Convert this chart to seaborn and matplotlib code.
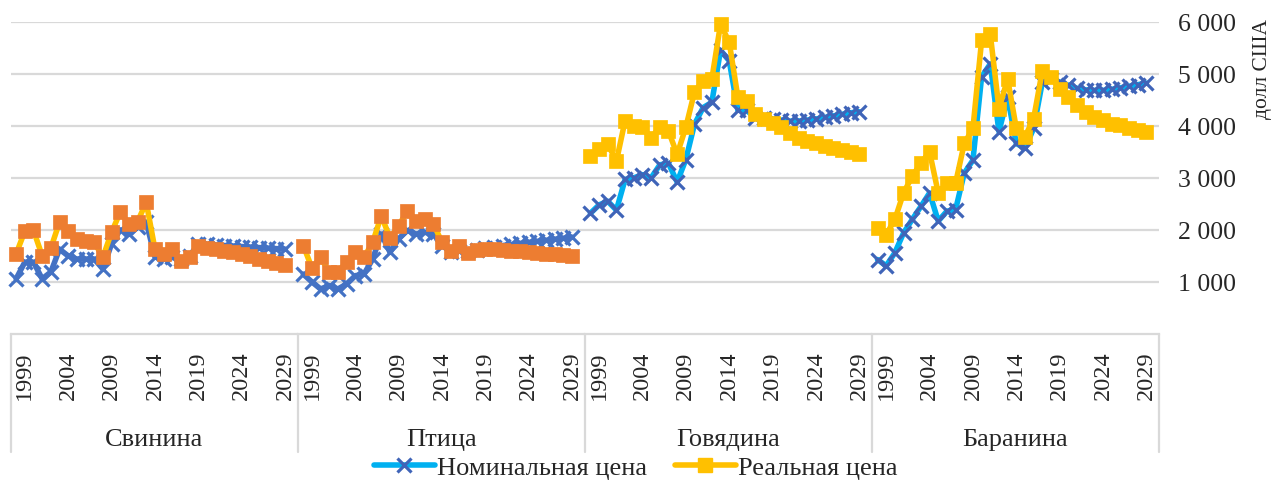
"""
Номинальные и реальные цены на мясо по видам, 1998-2029, долл. США.
"""

import matplotlib

matplotlib.use("Agg")

import matplotlib.pyplot as plt
import pandas as pd
import seaborn as sns
from matplotlib.lines import Line2D
from matplotlib.ticker import FuncFormatter


years = list(range(1998, 2030))
meats = ["Свинина", "Птица", "Говядина", "Баранина"]
year_ticks = [1999, 2004, 2009, 2014, 2019, 2024, 2029]
y_ticks = [1000, 2000, 3000, 4000, 5000, 6000]

pork_nominal = [1060, 1380, 1380, 1060, 1190, 1630, 1500, 1440, 1440, 1440, 1250, 1730,
                2000, 1920, 2050, 2150, 1480, 1450, 1470, 1450, 1500, 1730, 1720, 1710,
                1700, 1690, 1680, 1670, 1660, 1650, 1640, 1630]
pork_real = [1540, 1975, 1990, 1505, 1650, 2150, 1970, 1830, 1795, 1760, 1475, 1955,
             2340, 2115, 2160, 2530, 1630, 1540, 1630, 1410, 1475, 1700, 1660, 1630,
             1600, 1570, 1530, 1490, 1450, 1410, 1370, 1330]

poultry_nominal = [1150, 1000, 865, 930, 865, 960, 1120, 1150, 1440, 1920, 1570, 1830,
                   1990, 1920, 1955, 1920, 1700, 1580, 1600, 1590, 1620, 1650, 1680, 1700,
                   1720, 1740, 1760, 1780, 1800, 1820, 1840, 1860]
poultry_real = [1700, 1270, 1475, 1185, 1200, 1380, 1570, 1475, 1760, 2275, 1840, 2080,
                2370, 2180, 2210, 2115, 1760, 1600, 1690, 1560, 1620, 1630, 1625, 1615,
                1600, 1590, 1575, 1560, 1545, 1530, 1515, 1505]

beef_nominal = [2320, 2480, 2550, 2380, 2970, 3000, 3060, 3000, 3250, 3280, 2920, 3350,
                4030, 4350, 4450, 5450, 5250, 4300, 4300, 4150, 4150, 4130, 4110, 4090,
                4090, 4110, 4130, 4160, 4190, 4220, 4250, 4270]
beef_real = [3420, 3550, 3650, 3320, 4100, 4000, 3970, 3770, 3970, 3900, 3450, 3970,
             4650, 4870, 4900, 5950, 5610, 4550, 4480, 4230, 4130, 4060, 3970, 3860,
             3760, 3700, 3660, 3610, 3570, 3530, 3490, 3450]

lamb_nominal = [1430, 1310, 1560, 1940, 2200, 2450, 2710, 2170, 2360, 2390, 3090, 3340,
                4940, 5190, 3890, 4550, 3660, 3570, 3950, 4840, 4900, 4840, 4780, 4720,
                4690, 4680, 4680, 4700, 4730, 4760, 4790, 4820]
lamb_real = [2040, 1910, 2200, 2710, 3030, 3280, 3500, 2710, 2900, 2900, 3660, 3950,
             5640, 5760, 4330, 4900, 3950, 3790, 4140, 5060, 4940, 4710, 4550, 4400,
             4270, 4170, 4110, 4040, 4010, 3950, 3920, 3880]

nominal_values = [pork_nominal, poultry_nominal, beef_nominal, lamb_nominal]
real_values = [pork_real, poultry_real, beef_real, lamb_real]

# цвета: свинина и птица в одной гамме, говядина и баранина в другой
nominal_line = ["#4472C4", "#4472C4", "#00B0F0", "#00B0F0"]
nominal_marker = ["#4472C4", "#4472C4", "#3F64B8", "#3F64B8"]
real_line = ["#FFC000", "#FFC000", "#FFC000", "#FFC000"]
real_marker = ["#ED7D31", "#ED7D31", "#FFC000", "#FFC000"]

GRID = "#D9D9D9"

rows = []
for meat, nom, real in zip(meats, nominal_values, real_values):
    for year, n, r in zip(years, nom, real):
        rows.append({"meat": meat, "year": year, "series": "nominal", "price": n})
        rows.append({"meat": meat, "year": year, "series": "real", "price": r})
df = pd.DataFrame(rows)

sns.set_theme(style="white")
plt.rcParams["font.family"] = ["Liberation Serif", "DejaVu Serif"]

W, H, DPI = 1274, 481, 100
fig, axes = plt.subplots(1, 4, figsize=(W / DPI, H / DPI), dpi=DPI, sharey=True)

left_px, right_px, top_px, bottom_px = 10.5, 1159, 22.7, 335
fig.subplots_adjust(left=left_px / W, right=right_px / W,
                    top=1 - top_px / H, bottom=1 - bottom_px / H, wspace=0)

for i, (ax, meat) in enumerate(zip(axes, meats)):
    sub = df[df["meat"] == meat]
    sns.lineplot(data=sub[sub["series"] == "nominal"], x="year", y="price", ax=ax,
                 color=nominal_line[i], linewidth=4, marker="x", markersize=10,
                 markeredgecolor=nominal_marker[i], markeredgewidth=2.3,
                 errorbar=None, legend=False, clip_on=False, zorder=3)
    sns.lineplot(data=sub[sub["series"] == "real"], x="year", y="price", ax=ax,
                 color=real_line[i], linewidth=4, marker="s", markersize=10,
                 markerfacecolor=real_marker[i], markeredgecolor=real_marker[i],
                 markeredgewidth=0.5, errorbar=None, legend=False, clip_on=False, zorder=4)

    ax.set_xlim(1997.35, 2030.45)
    ax.set_ylim(0, 6000)
    ax.set_xticks(year_ticks)
    ax.set_xticklabels([str(y) for y in year_ticks])
    ax.tick_params(axis="x", length=0, pad=12, labelrotation=90, labelsize=17.5)
    ax.set_yticks(y_ticks)
    ax.tick_params(axis="y", length=0, labelleft=False, labelright=False)
    ax.grid(False)
    ax.yaxis.grid(True, color=GRID, linewidth=1.6)
    ax.set_axisbelow(True)
    ax.set_xlabel("")
    ax.set_ylabel("")
    for side in ["top", "left", "right"]:
        ax.spines[side].set_visible(False)
    ax.spines["bottom"].set_color(GRID)
    ax.spines["bottom"].set_linewidth(1.6)

    center = (axes[i].get_position().x0 + axes[i].get_position().x1) / 2
    fig.text(center, 1 - 440 / H, meat, ha="center", va="center", fontsize=19)

last = axes[-1]
last.yaxis.set_major_formatter(FuncFormatter(lambda v, _: f"{v:,.0f}".replace(",", " ")))
last.tick_params(axis="y", labelright=True, pad=14, labelsize=18.5)

fig.text(1262 / W, 1 - 69 / H, "долл США", rotation=90, ha="center", va="center",
         fontsize=15.5)

# вертикальные разделители групп под осью
for k in range(5):
    x = (left_px + k * (right_px - left_px) / 4) / W
    fig.add_artist(Line2D([x, x], [1 - bottom_px / H, 1 - 453 / H],
                          transform=fig.transFigure, color=GRID, linewidth=1.6))

handles = [
    Line2D([], [], color="#00B0F0", linewidth=4, marker="x", markersize=10,
           markeredgecolor="#3F64B8", markeredgewidth=2.3),
    Line2D([], [], color="#FFC000", linewidth=4, marker="s", markersize=10,
           markerfacecolor="#FFC000", markeredgecolor="#FFC000"),
]
fig.legend(handles, ["Номинальная цена", "Реальная цена"], loc="center",
           bbox_to_anchor=(636 / W, 1 - 468 / H), ncol=2, frameon=False,
           fontsize=19, handlelength=2.3, handletextpad=0.1, columnspacing=1.05,
           borderpad=0)

fig.savefig("out.png", dpi=DPI)
plt.close(fig)
